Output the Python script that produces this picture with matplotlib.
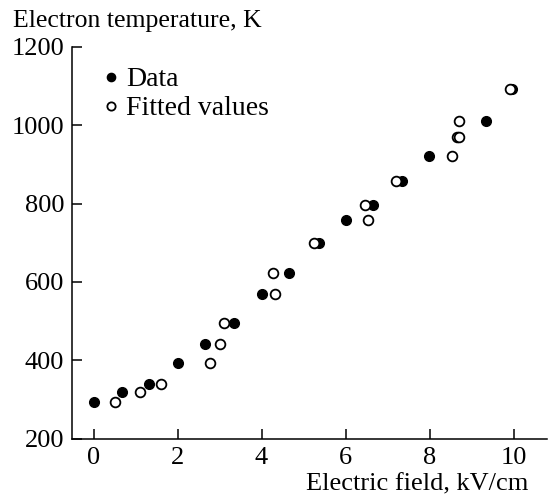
import numpy as np
import matplotlib
matplotlib.use("Agg")
import matplotlib.pyplot as plt

# Data (filled)
data_field = [0.0, 0.67, 1.33, 2.0, 2.66, 3.34, 4.0, 4.66, 5.36, 6.0, 6.65, 7.35, 7.99, 9.34, 9.96]
data_temp = [294, 319, 340, 392, 441, 495, 569, 624, 700, 758, 797, 857, 922, 1012, 1093]

# Fitted values (open)
fit_field = [0.5, 1.1, 1.61, 2.78, 3.02, 3.11, 4.31, 4.27, 5.24, 6.54, 6.47, 7.2, 8.53, 8.65, 8.70, 8.71, 9.92]
fit_temp = [294, 319, 340, 392, 441, 495, 569, 624, 700, 758, 797, 857, 922, 971, 971, 1012, 1093]

x_ticks = [0, 2, 4, 6, 8, 10]
y_ticks = [200, 400, 600, 800, 1000, 1200]

plt.rcParams['font.family'] = ['Liberation Serif', 'DejaVu Serif']
fs = 19

fig = plt.figure(figsize=(5.49, 4.99), dpi=100)
ax = fig.add_axes([0.1306, 0.121, 0.866, 0.785])

ax.plot(data_field, data_temp, 'o', color='black', markersize=7, label='Data', zorder=2)
ax.plot(fit_field, fit_temp, 'o', markerfacecolor='white', markeredgecolor='black',
        markeredgewidth=1.3, markersize=7, label='Fitted values', zorder=3)

ax.set_xlim(-0.52, 10.8)
ax.set_ylim(200, 1200)
ax.set_xticks(x_ticks)
ax.set_yticks(y_ticks)
ax.tick_params(direction='in', length=7.5, width=1.1, labelsize=fs, pad=5.5)
ax.tick_params(axis='x', pad=6)

for s in ['top', 'right']:
    ax.spines[s].set_visible(False)
for s in ['left', 'bottom']:
    ax.spines[s].set_linewidth(1.1)

fig.text(13/549, 1 - 27/499, 'Electron temperature, K', fontsize=18.5, ha='left', va='baseline')
fig.text(528/549, 1 - 490/499, 'Electric field, kV/cm', fontsize=fs, ha='right', va='baseline')

ax.legend(loc='upper left', bbox_to_anchor=(97/549, 1 - 67/499),
          bbox_transform=fig.transFigure, frameon=False, fontsize=20,
          markerscale=0.85, handletextpad=0.05, handlelength=1.0, borderaxespad=0,
          borderpad=0, labelspacing=0.12)

fig.savefig('out.png', dpi=100)
